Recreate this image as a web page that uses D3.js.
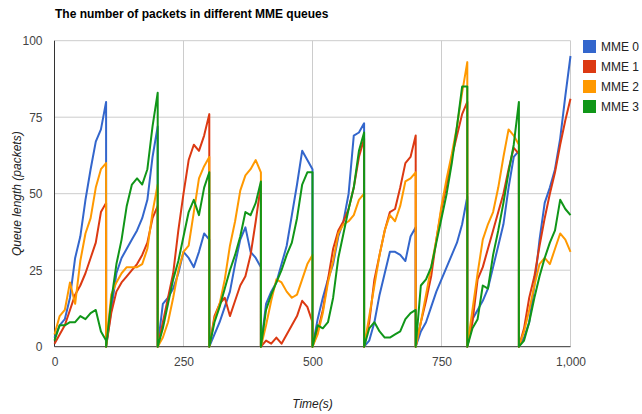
<!DOCTYPE html>
<html>
<head>
<meta charset="utf-8">
<script src="https://cdn.jsdelivr.net/npm/d3@7"></script>
<style>
  body { margin: 0; background: #fff; }
  text { font-family: "Liberation Sans", Arial, sans-serif; }
</style>
</head>
<body>
<script>
// MME queue lengths, sampled every 10 s inside each 100 s window
// (last value of a window is the level just before the reset)

let seriesNames = ["MME 0", "MME 1", "MME 2", "MME 3"];
let colors = ["#3366cc", "#dc3912", "#ff9900", "#109618"];

let windowStarts = [0, 100, 200, 300, 400, 500, 600, 700, 800, 900];
let offsets = [0, 10, 20, 30, 40, 50, 60, 70, 80, 90, 100];

let xTicks = [0, 250, 500, 750, 1000];
let yTicks = [0, 25, 50, 75, 100];

let mme0 = [
  [3, 7, 9, 16, 29, 36, 48, 58, 67, 71, 80],
  [0, 12, 24, 29, 32, 35, 38, 42, 48, 62, 72],
  [0, 14, 16, 19, 24, 31, 29, 26, 31, 37, 35],
  [0, 4, 8, 13, 18, 27, 35, 39, 31, 29, 26],
  [0, 14, 18, 21, 27, 33, 43, 53, 64, 61, 58],
  [0, 9, 16, 22, 27, 36, 41, 50, 69, 70, 73],
  [0, 2, 8, 17, 24, 31, 31, 30, 28, 36, 39],
  [0, 5, 8, 13, 18, 22, 26, 30, 34, 40, 49],
  [0, 9, 12, 15, 19, 26, 33, 40, 52, 62, 64],
  [0, 3, 8, 20, 35, 47, 52, 58, 68, 82, 95]
];

let mme1 = [
  [1, 4, 7, 12, 17, 20, 24, 29, 34, 44, 47],
  [0, 11, 18, 21, 23, 25, 27, 30, 34, 42, 46],
  [0, 8, 16, 24, 38, 50, 61, 66, 64, 69, 76],
  [0, 10, 14, 16, 10, 15, 20, 23, 30, 41, 53],
  [0, 2, 1, 3, 1, 4, 7, 10, 15, 13, 8],
  [0, 5, 12, 22, 32, 38, 41, 45, 52, 62, 68],
  [0, 8, 22, 30, 38, 44, 45, 52, 60, 62, 69],
  [0, 8, 15, 23, 35, 45, 53, 62, 69, 76, 80],
  [0, 8, 22, 26, 32, 38, 44, 50, 58, 65, 63],
  [0, 6, 16, 23, 33, 42, 50, 57, 66, 74, 81]
];

let mme2 = [
  [4, 10, 12, 21, 14, 28, 37, 42, 52, 58, 60],
  [0, 17, 21, 24, 26, 26, 26, 27, 32, 44, 53],
  [0, 3, 8, 16, 25, 31, 33, 44, 55, 59, 62],
  [0, 9, 14, 22, 33, 41, 51, 56, 58, 61, 57],
  [0, 7, 15, 22, 21, 18, 16, 17, 22, 27, 30],
  [0, 4, 11, 21, 28, 37, 40, 41, 43, 48, 50],
  [0, 10, 20, 30, 38, 43, 41, 46, 54, 55, 57],
  [0, 8, 17, 26, 35, 46, 55, 63, 72, 83, 93],
  [0, 12, 24, 35, 40, 44, 52, 62, 71, 69, 66],
  [0, 5, 12, 20, 27, 29, 27, 32, 37, 35, 31]
];

let mme3 = [
  [2, 7, 7, 8, 8, 10, 9, 11, 12, 5, 2],
  [0, 15, 27, 35, 46, 53, 55, 53, 58, 72, 83],
  [0, 6, 14, 22, 28, 36, 44, 48, 43, 52, 57],
  [0, 8, 13, 19, 25, 30, 36, 44, 43, 47, 54],
  [0, 12, 17, 21, 25, 30, 34, 42, 53, 57, 57],
  [0, 7, 6, 8, 16, 29, 37, 45, 52, 64, 70],
  [0, 6, 8, 5, 3, 3, 4, 5, 9, 11, 12],
  [0, 20, 22, 26, 34, 42, 50, 60, 72, 85, 85],
  [0, 6, 9, 20, 19, 30, 38, 47, 57, 66, 80],
  [0, 2, 8, 16, 23, 29, 34, 38, 48, 45, 43]
];

let allSeries = [mme0, mme1, mme2, mme3];

let width = 642;
let height = 414;

let svg = d3
  .select("body")
  .append("svg")
  .attr("width", width)
  .attr("height", height);

let x = d3.scaleLinear().domain([0, 1000]).range([54.5, 570.5]);
let y = d3.scaleLinear().domain([0, 100]).range([346.7, 40.7]);

// Title
svg
  .append("text")
  .attr("x", 55)
  .attr("y", 18)
  .style("font-size", "12px")
  .style("font-weight", "bold")
  .style("fill", "#000")
  .text("The number of packets in different MME queues");

// Gridlines
svg
  .append("g")
  .selectAll("line")
  .data(yTicks.filter((d) => d > 0))
  .join("line")
  .attr("x1", x(0))
  .attr("x2", x(1000))
  .attr("y1", (d) => y(d))
  .attr("y2", (d) => y(d))
  .style("stroke", "#cccccc")
  .style("stroke-width", 1);

svg
  .append("g")
  .selectAll("line")
  .data(xTicks.filter((d) => d > 0))
  .join("line")
  .attr("x1", (d) => x(d))
  .attr("x2", (d) => x(d))
  .attr("y1", y(0))
  .attr("y2", y(100))
  .style("stroke", "#cccccc")
  .style("stroke-width", 1);

// Axes (labels only, Google-chart look)
let xAxis = svg
  .append("g")
  .attr("transform", `translate(0, ${y(0)})`)
  .call(
    d3
      .axisBottom(x)
      .tickValues(xTicks)
      .tickSize(0)
      .tickPadding(11)
      .tickFormat(d3.format(","))
  );
xAxis.select(".domain").remove();

let yAxis = svg
  .append("g")
  .attr("transform", `translate(${x(0)}, 0)`)
  .call(d3.axisLeft(y).tickValues(yTicks).tickSize(0).tickPadding(12));
yAxis.select(".domain").remove();

svg
  .selectAll(".tick text")
  .style("font-family", '"Liberation Sans", Arial, sans-serif')
  .style("font-size", "12px")
  .style("fill", "#444");

// Left and bottom axis lines
svg
  .append("line")
  .attr("x1", x(0))
  .attr("x2", x(0))
  .attr("y1", y(0))
  .attr("y2", y(100))
  .style("stroke", "#333")
  .style("stroke-width", 1);
svg
  .append("line")
  .attr("x1", x(0))
  .attr("x2", x(1000))
  .attr("y1", y(0))
  .attr("y2", y(0))
  .style("stroke", "#333")
  .style("stroke-width", 1);

// Axis titles
svg
  .append("text")
  .attr("x", (x(0) + x(1000)) / 2)
  .attr("y", 408)
  .attr("text-anchor", "middle")
  .style("font-size", "12px")
  .style("font-style", "italic")
  .style("fill", "#222")
  .text("Time(s)");

svg
  .append("text")
  .attr("transform", `translate(20.5, ${(y(0) + y(100)) / 2}) rotate(-90)`)
  .attr("text-anchor", "middle")
  .style("font-size", "12px")
  .style("font-style", "italic")
  .style("fill", "#222")
  .text("Queue length (packets)");

// Lines: each window runs from its start to the level just before reset
let line = d3
  .line()
  .x((d) => x(d.t))
  .y((d) => y(d.v));

allSeries.forEach((series, i) => {
  let points = [];
  series.forEach((win, w) => {
    win.forEach((v, k) => {
      points.push({ t: windowStarts[w] + offsets[k], v: v });
    });
  });
  svg
    .append("path")
    .datum(points)
    .attr("d", line)
    .style("fill", "none")
    .style("stroke", colors[i])
    .style("stroke-width", 2)
    .style("stroke-linejoin", "round");
});

// Legend
let legend = svg
  .append("g")
  .selectAll("g")
  .data(seriesNames)
  .join("g")
  .attr("transform", (d, i) => `translate(583, ${40 + i * 20})`);

legend
  .append("rect")
  .attr("width", 13)
  .attr("height", 13)
  .style("fill", (d, i) => colors[i]);

legend
  .append("text")
  .attr("x", 18)
  .attr("y", 11)
  .style("font-size", "12px")
  .style("fill", "#222")
  .text((d) => d);
</script>
</body>
</html>
